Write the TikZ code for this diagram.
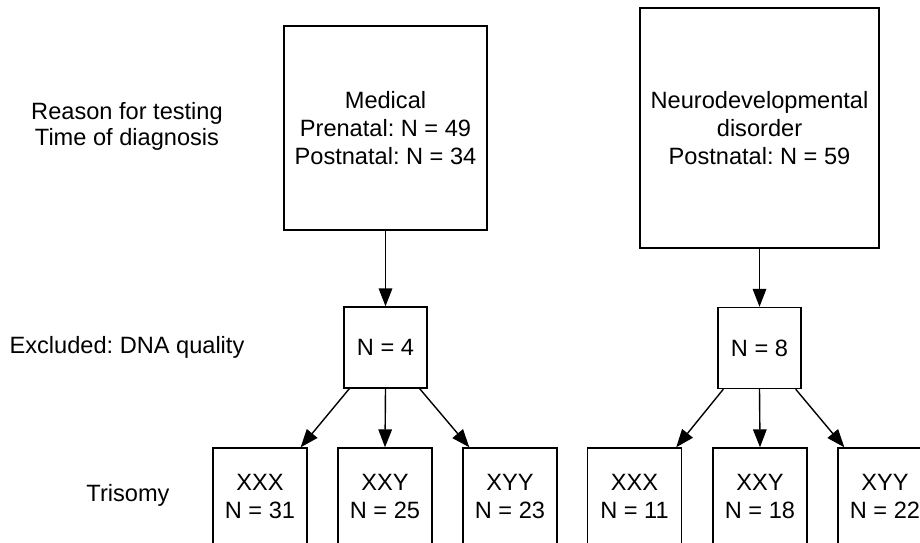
\documentclass[tikz,border=0pt]{standalone}
\usepackage{fontspec}
\setmainfont{Liberation Sans}
\usetikzlibrary{arrows.meta}
\frenchspacing
\begin{document}
\begin{tikzpicture}[x=0.5pt,y=-0.5pt,
  font=\fontsize{11.8}{14}\selectfont\frenchspacing,
  box/.style={draw,line width=0.7pt,inner sep=0pt,align=center},
  lbl/.style={align=center,inner sep=0pt},
  arr/.style={-{Triangle[length=9pt,width=6.8pt]},line width=0.7pt}]
\useasboundingbox (0,0) rectangle (920,542);
\clip (0,0) rectangle (920,542);
% row labels
\node[lbl,font=\fontsize{11.8}{13}\selectfont\frenchspacing] (l1) at (127,126) {Reason for testing\\Time of diagnosis};
\node[lbl] (l2) at (127,347) {Excluded: DNA quality};
\node[lbl] (l3) at (128,495) {Trisomy};
% top boxes
\node[box,minimum width=101.5pt,minimum height=102pt] (med) at (385.5,128) {Medical\\Prenatal: N = 49\\Postnatal: N = 34};
\node[box,minimum width=119.5pt,minimum height=120pt] (neu) at (759.5,128) {Neurodevelopmental\\disorder\\Postnatal: N = 59};
% middle boxes
\node[box,minimum width=41.5pt,minimum height=40.5pt] (n4) at (385.5,347.5) {N = 4};
\node[box,minimum width=41.5pt,minimum height=40.5pt] (n8) at (759.5,348) {N = 8};
% bottom boxes
\node[box,minimum width=47pt,minimum height=48pt] (a1) at (260,496) {XXX\\N = 31};
\node[box,minimum width=47pt,minimum height=48pt] (a2) at (385,496) {XXY\\N = 25};
\node[box,minimum width=47pt,minimum height=48pt] (a3) at (510,496) {XYY\\N = 23};
\node[box,minimum width=47pt,minimum height=48pt] (b1) at (634.5,496) {XXX\\N = 11};
\node[box,minimum width=47pt,minimum height=48pt] (b2) at (760,496) {XXY\\N = 18};
\node[box,minimum width=47pt,minimum height=48pt] (b3) at (885,496) {XYY\\N = 22};
% connectors
\draw[arr] (med.south) -- (n4.north);
\draw[arr] (neu.south) -- (n8.north);
\draw[arr] ([xshift=3pt]n4.south west) -- ([xshift=-3.5pt]a1.north east);
\draw[arr] (n4.south) -- (a2.north);
\draw[arr] ([xshift=-4pt]n4.south east) -- ([xshift=3.5pt]a3.north west);
\draw[arr] ([xshift=3pt]n8.south west) -- ([xshift=-3pt]b1.north east);
\draw[arr] (n8.south) -- (b2.north);
\draw[arr] ([xshift=-3pt]n8.south east) -- ([xshift=3.5pt]b3.north west);
\end{tikzpicture}
\end{document}
